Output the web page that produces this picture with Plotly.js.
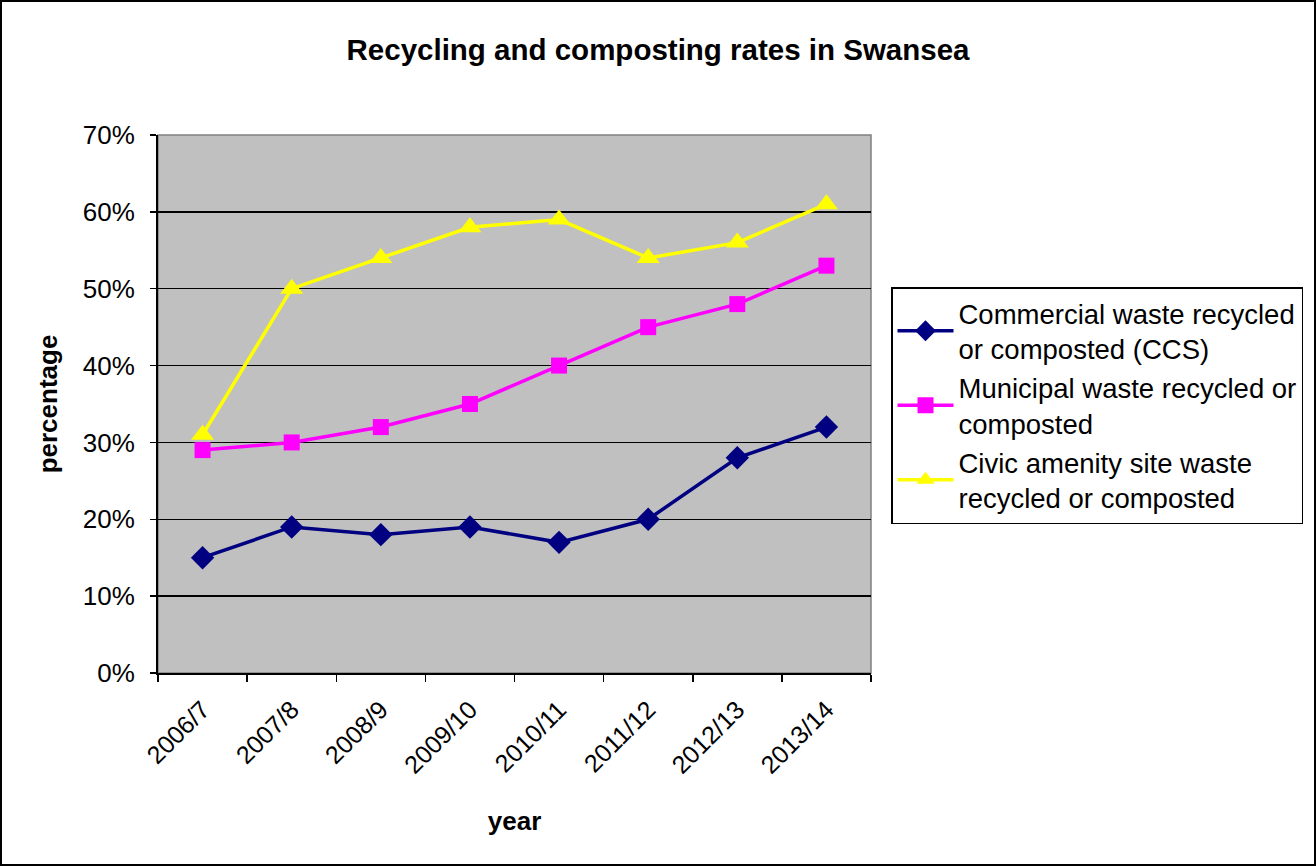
<!DOCTYPE html>
<html>
<head>
<meta charset="utf-8">
<script src="https://cdn.plot.ly/plotly-3.0.1.min.js"></script>
<style>
html,body{margin:0;padding:0;background:#fff;}
#chart{width:1316px;height:866px;}
</style>
</head>
<body>
<div id="chart"></div>
<script>
const years = ["2006/7","2007/8","2008/9","2009/10","2010/11","2011/12","2012/13","2013/14"];
const commercial = [0.15,0.19,0.18,0.19,0.17,0.20,0.28,0.32];
const municipal = [0.29,0.30,0.32,0.35,0.40,0.45,0.48,0.53];
const civic = [0.31,0.50,0.54,0.58,0.59,0.54,0.56,0.61];
const seriesNames = [
  "Commercial waste recycled<br>or composted (CCS)",
  "Municipal waste recycled or<br>composted",
  "Civic amenity site waste<br>recycled or composted"
];

const W = 1316, H = 866;
const M = {l:158, r:445, t:135, b:193};
const pw = W - M.l - M.r, ph = H - M.t - M.b;
const font = "Liberation Sans, Arial, sans-serif";

const traces = [
  {x: years, y: commercial, name: seriesNames[0], type: "scatter", mode: "lines+markers",
   line: {color: "#000080", width: 3.5}, marker: {symbol: "diamond", size: 18, color: "#000080"}},
  {x: years, y: municipal, name: seriesNames[1], type: "scatter", mode: "lines+markers",
   line: {color: "#FF00FF", width: 3.5}, marker: {symbol: "square", size: 16, color: "#FF00FF"}},
  {x: years, y: civic, name: seriesNames[2], type: "scatter", mode: "lines+markers",
   line: {color: "#FFFF00", width: 3.5}, marker: {symbol: "triangle-up", size: 20, color: "#FFFF00"}}
];

const layout = {
  width: W, height: H,
  margin: M,
  paper_bgcolor: "#ffffff",
  plot_bgcolor: "#C0C0C0",
  font: {family: font, color: "#000", size: 26},
  title: {text: "<b>Recycling and composting rates in Swansea</b>", font: {family: font, size: 29.5, color: "#000"},
          x: 0.5, xref: "container", y: 1 - 50/H, yref: "container", yanchor: "middle"},
  showlegend: true,
  legend: {x: (891 - M.l)/pw, xanchor: "left", y: (H - M.b - 287)/ph, yanchor: "top",
           bordercolor: "#000", borderwidth: 1.5, bgcolor: "#fff",
           font: {family: font, size: 27.5, color: "#000"}, tracegroupgap: 0, itemwidth: 56},
  xaxis: {
    type: "category", range: [-0.5, 7.5], tickson: "boundaries",
    ticks: "outside", ticklen: 7, tickcolor: "#000", tickwidth: 1.5,
    showline: true, linecolor: "#000", linewidth: 2, mirror: false,
    showgrid: false, zeroline: false, tickangle: -45, ticklabelstandoff: 10,
    tickfont: {family: font, size: 25, color: "#000"},
    title: {text: "<b>year</b>", font: {family: font, size: 26, color: "#000"}, standoff: 34}
  },
  yaxis: {
    range: [0, 0.7], dtick: 0.1, tick0: 0, tickformat: ".0%",
    ticks: "outside", ticklen: 6, tickcolor: "#000", tickwidth: 1.5,
    showline: true, linecolor: "#000", linewidth: 2, ticklabelstandoff: 10,
    showgrid: true, gridcolor: "#000", gridwidth: 1.5, zeroline: false,
    tickfont: {family: font, size: 26, color: "#000"},
    title: {text: "<b>percentage</b>", font: {family: font, size: 26, color: "#000"}, standoff: 18}
  },
  shapes: [
    {type: "rect", xref: "paper", yref: "paper", x0: 0, x1: 1, y0: 0, y1: 1,
     line: {color: "#808080", width: 1.5}, layer: "below"},
    {type: "rect", xref: "paper", yref: "paper",
     x0: (1 - M.l)/pw, x1: (W - 1 - M.l)/pw, y0: (H - M.b - (H - 1))/ph, y1: (H - M.b - 1)/ph,
     line: {color: "#000", width: 2}}
  ]
};

Plotly.newPlot("chart", traces, layout, {displayModeBar: false, staticPlot: true});
</script>
</body>
</html>
